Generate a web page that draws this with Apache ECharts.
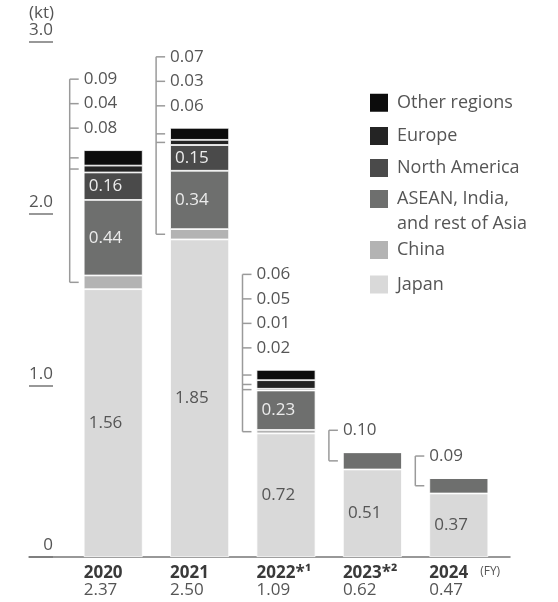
<!DOCTYPE html>
<html><head><meta charset="utf-8">
<script src="https://cdn.jsdelivr.net/npm/echarts@6/dist/echarts.min.js"></script>
<style>html,body{margin:0;padding:0;background:#fff}#c{width:558px;height:602px}</style>
</head><body><div id="c"></div>
<script>
// ---- data ----
const years = ['2020', '2021', '2022', '2023', '2024'];
const yearNotes = ['', '', '*¹', '*²', ''];
const totals = [2.37, 2.50, 1.09, 0.62, 0.47];
const japan = [1.56, 1.85, 0.72, 0.51, 0.37];
const china = [0.08, 0.06, 0.02, 0, 0];
const asean = [0.44, 0.34, 0.23, 0.10, 0.09];
const northAmerica = [0.16, 0.15, 0.01, 0, 0];
const europe = [0.04, 0.03, 0.05, 0, 0];
const otherRegions = [0.09, 0.07, 0.06, 0, 0];
const yTicks = [0, 1, 2, 3];
const unitLabel = '(kt)';
const fyLabel = '(FY)';

// ---- style ----
const FONT = '"Open Sans", "DejaVu Sans", sans-serif';
const TXT = '#555';
const BAR_W = 59;
const INSIDE_MIN = 0.15;
const layers = [
  {name: 'Japan', values: japan, color: '#d9d9d9', text: '#555', inside: true},
  {name: 'China', values: china, color: '#b3b3b3', text: '#555'},
  {name: 'ASEAN, India,\nand rest of Asia', values: asean, color: '#6e6f6e', text: '#ececec'},
  {name: 'North America', values: northAmerica, color: '#4a4a4a', text: '#ececec'},
  {name: 'Europe', values: europe, color: '#242424', text: '#ececec'},
  {name: 'Other regions', values: otherRegions, color: '#0c0c0c', text: '#ececec'}
];
const legendCenters = {'Other regions': 101.7, 'Europe': 135, 'North America': 167,
  'ASEAN, India,\nand rest of Asia': 199, 'China': 249, 'Japan': 283.5};

const GRID_TOP = 42, GRID_H = 515;

const barSeries = layers.map(l => ({
  type: 'bar', name: l.name, stack: 'fy', xAxisIndex: 1, yAxisIndex: 1, barWidth: BAR_W,
  itemStyle: {color: l.color, borderColor: '#fff', borderWidth: 0.8},
  data: l.values.map(v => ({value: v, label: {show: !!(l.inside || v >= INSIDE_MIN)}})),
  label: {position: 'insideLeft', distance: 5, color: l.text, fontSize: 17, fontFamily: FONT,
    formatter: p => Number(p.value).toFixed(2)},
  emphasis: {disabled: true}
}));

const bracketSeries = {
  type: 'custom', xAxisIndex: 1, yAxisIndex: 1, silent: true, z: 5,
  data: years.map((y, i) => [i]),
  renderItem: (params, api) => {
    const i = params.dataIndex;
    let cum = 0; const segs = [];
    layers.forEach(l => {
      const v = l.values[i];
      segs.push({v, mid: cum + v / 2, inside: !!(l.inside || v >= INSIDE_MIN)});
      cum += v;
    });
    const br = segs.filter(s => s.v > 0 && !s.inside);
    if (!br.length) return null;
    const cx = api.coord([i, 0])[0];
    const barLeft = cx - BAR_W / 2;
    const topY = api.coord([i, cum])[1];
    const bx = barLeft - 14, tick = 9;
    const n = br.length;
    const rowY = k => topY - 22 - (n - 1 - k) * 24.5;
    const topDown = br.slice().reverse();
    const ls = {stroke: '#9a9a9a', lineWidth: 1.5};
    const children = [];
    const lowY = api.coord([i, br[0].mid])[1];
    children.push({type: 'line', shape: {x1: bx, y1: rowY(0), x2: bx, y2: lowY}, style: ls});
    topDown.forEach((s, k) => {
      const y = rowY(k);
      children.push({type: 'line', shape: {x1: bx, y1: y, x2: bx + tick, y2: y}, style: ls});
      children.push({type: 'text', style: {x: barLeft, y: y, text: s.v.toFixed(2), fill: TXT,
        fontSize: 17, fontFamily: FONT, align: 'left', verticalAlign: 'middle'}});
      const sy = api.coord([i, s.mid])[1];
      children.push({type: 'line', shape: {x1: bx, y1: sy, x2: bx + tick, y2: sy}, style: ls});
    });
    return {type: 'group', children};
  }
};

const legends = layers.slice().reverse().map(l => {
  const multi = l.name.indexOf('\n') >= 0;
  const c = legendCenters[l.name];
  return {
    data: [l.name], left: 368, top: multi ? c - 37.5 : c - 10, padding: 0,
    orient: 'vertical', icon: 'rect', itemWidth: 20, itemHeight: 20, selectedMode: false,
    formatter: multi ? (name => ' \n' + name) : (name => name),
    textStyle: {fontSize: 18, fontFamily: FONT, color: TXT, lineHeight: multi ? 25 : 20, padding: [0, 0, 0, 3]}
  };
});

const option = {
  animation: false,
  backgroundColor: '#fff',
  textStyle: {fontFamily: FONT},
  title: {text: unitLabel, left: 29, top: 5, padding: 0,
    textStyle: {fontSize: 17, fontWeight: 'normal', color: TXT, fontFamily: FONT}},
  legend: legends,
  grid: [
    {left: 29, right: 48, top: GRID_TOP, height: GRID_H},
    {left: 70, width: 432, top: GRID_TOP, height: GRID_H},
    {left: 40.5, width: 432, top: GRID_TOP, height: GRID_H}
  ],
  xAxis: [
    {gridIndex: 0, type: 'category', data: [''], axisLine: {show: true, lineStyle: {color: '#777', width: 1.5}},
      axisTick: {show: false}, axisLabel: {show: false}},
    {gridIndex: 1, type: 'category', data: years, show: false},
    {gridIndex: 2, type: 'category', data: years, axisLine: {show: false}, axisTick: {show: false},
      axisLabel: {
        align: 'left', margin: 8, interval: 0,
        formatter: (v, idx) => '{y|' + v + yearNotes[idx] + '}' +
          (idx === years.length - 1 ? '{fy|' + fyLabel + '}' : '') +
          '\n{t|' + totals[idx].toFixed(2) + '}',
        rich: {
          y: {fontSize: 17, fontWeight: 'bold', color: '#3a3a3a', lineHeight: 17, fontFamily: FONT},
          fy: {fontSize: 12, color: TXT, padding: [0, 0, 4, 12], verticalAlign: 'middle', fontFamily: FONT},
          t: {fontSize: 17, color: TXT, lineHeight: 17, fontFamily: FONT}
        }
      }}
  ],
  yAxis: [
    {gridIndex: 0, type: 'value', min: yTicks[0], max: yTicks[yTicks.length - 1], interval: 1,
      axisLine: {show: false}, splitLine: {show: false},
      axisTick: {show: true, inside: true, length: 24, lineStyle: {color: '#777', width: 1.5}},
      axisLabel: {inside: true, margin: 24, align: 'right', verticalAlign: 'bottom', padding: [0, 0, 3, 0],
        fontSize: 17, color: TXT, fontFamily: FONT,
        formatter: v => v === 0 ? '0' : v.toFixed(1)}},
    {gridIndex: 1, type: 'value', min: yTicks[0], max: yTicks[yTicks.length - 1], show: false},
    {gridIndex: 2, type: 'value', min: 0, max: 1, show: false}
  ],
  series: barSeries.concat([bracketSeries])
};

const chart = echarts.init(document.getElementById('c'), null, {renderer: 'canvas'});
chart.setOption(option);
</script>
</body></html>
